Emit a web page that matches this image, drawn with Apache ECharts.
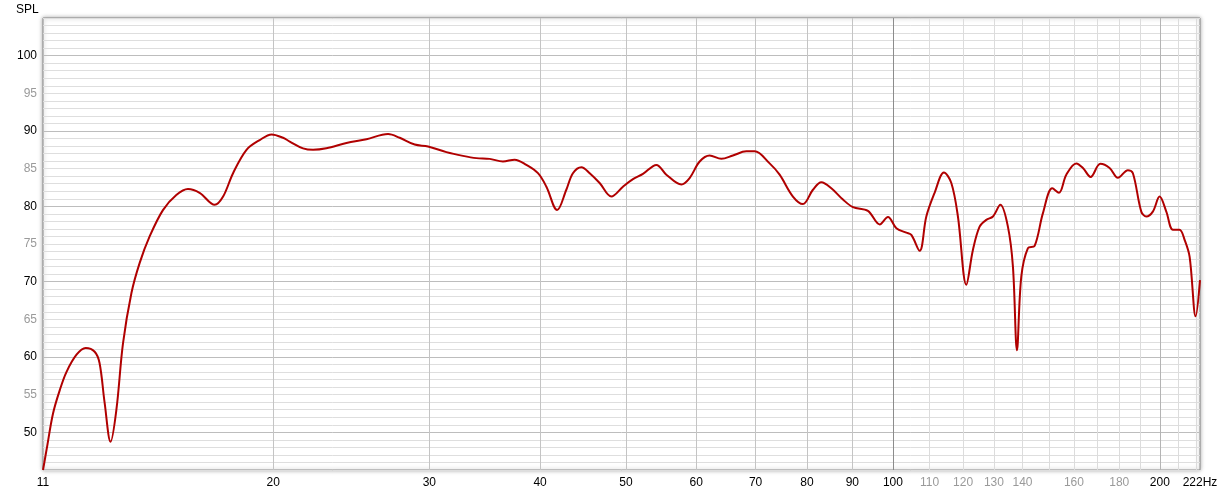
<!DOCTYPE html>
<html>
<head>
<meta charset="utf-8">
<script src="https://cdn.jsdelivr.net/npm/echarts@6/dist/echarts.min.js"></script>
<style>
html,body{margin:0;padding:0;background:#fff;}
#chart{width:1222px;height:494px;}
</style>
</head>
<body>
<div id="chart"></div>
<script>
// ---- data ----
const freqs = [11.0, 11.11, 11.29, 11.49, 11.69, 12.0, 12.29, 12.58, 12.74, 12.91, 13.11, 13.31, 13.54, 13.84, 14.14, 14.51, 15.02, 15.55, 16.03, 16.52, 17.18, 17.56, 18.02, 18.66, 19.31, 19.92, 20.52, 20.88, 21.61, 22.18, 22.96, 24.19, 25.48, 26.95, 27.78, 28.88, 29.90, 31.36, 32.74, 33.90, 35.09, 36.32, 37.44, 38.60, 39.78, 40.66, 41.81, 42.82, 43.56, 44.53, 45.50, 46.69, 48.13, 49.60, 50.91, 52.25, 54.10, 55.52, 57.73, 58.98, 60.54, 62.13, 64.04, 66.00, 68.34, 69.83, 72.60, 74.51, 77.13, 79.16, 81.24, 83.04, 85.22, 87.83, 90.14, 93.72, 96.62, 98.72, 100.9, 103.55, 104.9, 107.19, 109.06, 111.44, 114.16, 116.38, 118.39, 121.0, 123.09, 125.25, 127.45, 129.66, 132.17, 134.8, 136.57, 138.0, 139.58, 142.0, 144.49, 147.64, 151.28, 153.9, 156.88, 161.0, 163.79, 167.1, 171.37, 175.55, 179.37, 184.09, 186.5, 190.6, 193.1, 196.4, 199.9, 203.4, 206.9, 210.5, 213.3, 216.1, 219.5, 222];
const spl = [45.0, 47.9, 52.5, 55.6, 58.0, 60.3, 61.2, 60.7, 59.2, 53.9, 48.75, 53.0, 61.8, 68.5, 72.5, 76.0, 79.5, 81.5, 82.3, 81.8, 80.2, 81.3, 84.4, 87.5, 88.8, 89.55, 89.1, 88.6, 87.7, 87.5, 87.7, 88.4, 88.9, 89.6, 89.1, 88.2, 87.95, 87.2, 86.7, 86.4, 86.3, 85.95, 86.2, 85.5, 84.4, 82.6, 79.5, 82.2, 84.4, 85.2, 84.4, 83.1, 81.3, 82.6, 83.6, 84.3, 85.5, 84.2, 82.9, 83.75, 85.95, 86.75, 86.3, 86.75, 87.3, 87.3, 85.7, 84.2, 81.3, 80.3, 82.2, 83.2, 82.4, 80.9, 79.9, 79.4, 77.6, 78.6, 77.1, 76.5, 76.2, 74.1, 78.65, 81.8, 84.5, 83.1, 78.65, 69.6, 74.2, 77.3, 78.2, 78.65, 80.2, 77.3, 72.0, 60.9, 70.7, 74.45, 74.75, 79.1, 82.4, 81.8, 84.2, 85.7, 85.1, 83.9, 85.65, 85.1, 83.8, 84.8, 84.4, 79.3, 78.65, 79.3, 81.3, 79.3, 76.9, 76.9, 75.55, 73.3, 65.4, 70.2];

const xGridFreqs = [20, 30, 40, 50, 60, 70, 80, 90, 100, 110, 120, 130, 140, 150, 160, 170, 180, 190, 200, 210, 220];
const xLabelFreqs = [11, 20, 30, 40, 50, 60, 70, 80, 90, 100, 110, 120, 130, 140, 160, 180, 200, 222];
const xLabelTexts = ['11', '20', '30', '40', '50', '60', '70', '80', '90', '100', '110', '120', '130', '140', '160', '180', '200', '222Hz'];
const greyLabelFreqs = [110, 120, 130, 140, 160, 180];
const yMin = 45, yMax = 105;

// ---- build options ----
const FONT = "'Liberation Sans', Arial, sans-serif";
function gridColor(f) {
  if (f === 100) return '#8c8c8c';
  if (f === 200) return '#b4b4b4';
  if (f < 100) return '#c4c4c4';
  return '#dcdcdc';
}
const markData = [];
xGridFreqs.forEach(f => {
  markData.push({ xAxis: f, lineStyle: { color: gridColor(f), width: 1, type: 'solid' }, label: { show: false } });
});
xLabelFreqs.forEach((f, i) => {
  markData.push({
    xAxis: f,
    lineStyle: { color: 'rgba(255,255,255,0)', width: 0 },
    label: { show: true, opacity: 1, formatter: xLabelTexts[i], color: greyLabelFreqs.indexOf(f) >= 0 ? '#9a9a9a' : '#000' }
  });
});

const yLineColors = [];
for (let i = 0; i < 10; i++) yLineColors.push(i === 5 ? '#bdbdbd' : '#dedede');

const chart = echarts.init(document.getElementById('chart'), null, { renderer: 'canvas' });
chart.setOption({
  animation: false,
  backgroundColor: '#fff',
  textStyle: { fontFamily: FONT },
  title: {
    text: 'SPL', left: 16, top: 4, padding: 0,
    textStyle: { fontFamily: FONT, fontSize: 12, fontWeight: 'normal', color: '#000' }
  },
  grid: {
    left: 43, right: 22, top: 18, bottom: 24,
    show: true, backgroundColor: '#fff', borderColor: '#8a8a8a', borderWidth: 1,
    shadowColor: 'rgba(0,0,0,0.35)', shadowBlur: 4
  },
  xAxis: {
    type: 'log', logBase: 10, min: 11, max: 222,
    axisLine: { show: false }, axisTick: { show: false },
    axisLabel: { show: false }, splitLine: { show: false }
  },
  yAxis: {
    type: 'value', min: yMin, max: yMax, interval: 1,
    axisLine: { show: false }, axisTick: { show: false },
    axisLabel: {
      margin: 6, fontSize: 12, fontFamily: FONT,
      formatter: v => (v % 5 === 0 && v > yMin && v < yMax) ? String(v) : '',
      color: v => (Number(v) % 10 === 0) ? '#000' : '#9a9a9a'
    },
    splitLine: { show: true, lineStyle: { color: yLineColors, width: 1 } }
  },
  series: [
    {
      type: 'line', z: 1, silent: true, clip: false,
      data: [[11, yMin]], showSymbol: false, lineStyle: { width: 0, opacity: 0 },
      markLine: {
        silent: true, symbol: 'none', animation: false,
        label: { position: 'start', distance: 7, fontSize: 12, fontFamily: FONT },
        emphasis: { disabled: true },
        data: markData
      }
    },
    {
      type: 'line', z: 5, silent: true,
      data: freqs.map((f, i) => [f, spl[i]]),
      smooth: 0.35, showSymbol: false, symbol: 'none',
      lineStyle: { color: '#b00000', width: 2 }
    }
  ]
});
</script>
</body>
</html>
